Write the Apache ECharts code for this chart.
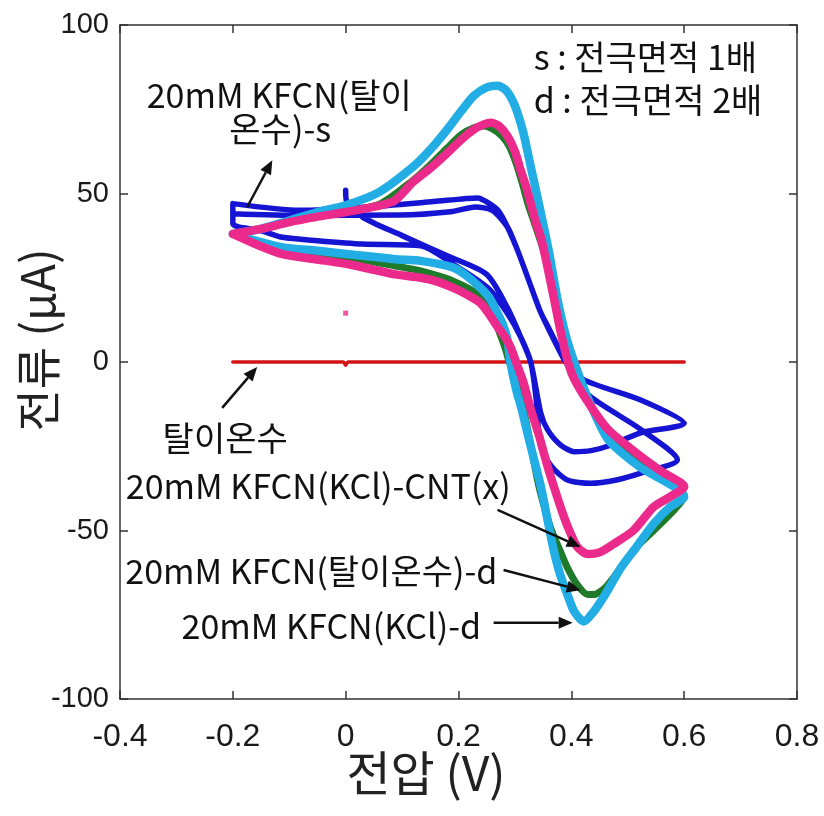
<!DOCTYPE html>
<html><head><meta charset="utf-8">
<script src="https://cdn.jsdelivr.net/npm/echarts/dist/echarts.min.js"></script>
<style>html,body{margin:0;padding:0;background:#fff}#c{width:824px;height:816px}</style>
</head><body><div id="c"></div>
<script>
// ---- tick values ----
const xTicks = [-0.4, -0.2, 0, 0.2, 0.4, 0.6, 0.8];
const yTicks = [-100, -50, 0, 50, 100];
const xTitle = '전압 (V)';
const yTitle = '전류 (μA)';

// ---- series data [voltage V, current uA] ----
const redDI = [[-0.2,0],[-0.004,0],[0,-1],[0.004,0],[0.6,0]];

const cyanKClD = [
 [-0.2,38],[-0.15,39.5],[-0.1,42],[-0.05,44.5],[0,46.5],[0.06,50.5],[0.12,58],[0.15,63],[0.18,69],[0.205,74.5],[0.227,79],[0.25,81.5],[0.269,82],[0.285,80.5],[0.3,76],[0.315,68],[0.328,58],[0.345,45],[0.36,33],[0.375,19],[0.39,8],[0.405,0],[0.43,-11],[0.465,-23],[0.52,-31],[0.6,-40],
 [0.575,-43],[0.546,-48],[0.515,-55],[0.488,-61],[0.46,-69],[0.44,-74],[0.422,-77],[0.405,-74],[0.393,-69],[0.38,-63],[0.369,-56],[0.358,-47],[0.346,-37],[0.334,-29],[0.322,-21],[0.312,-14],[0.302,-8],[0.292,0],[0.287,6.5],[0.279,11],[0.269,14.5],[0.255,19],[0.239,22],[0.215,25.5],[0.191,28],[0.133,30],[0.088,30.5],[0.005,32],[-0.05,33],[-0.112,34],[-0.16,36],[-0.2,38]
];

const greenDId = [
 [-0.2,38],[-0.15,39.5],[-0.1,41.5],[-0.054,43],[0,44.5],[0.062,47],[0.12,54],[0.15,58.5],[0.18,63.5],[0.205,67.5],[0.227,69.5],[0.245,70],[0.262,69],[0.277,67],[0.29,64],[0.302,59],[0.313,53],[0.323,47],[0.333,42],[0.349,34],[0.36,27],[0.372,18],[0.384,9],[0.397,0],[0.41,-5],[0.435,-13],[0.47,-22],[0.525,-30],[0.6,-40],
 [0.576,-45],[0.546,-50],[0.515,-55],[0.488,-61],[0.46,-67],[0.44,-69],[0.429,-69],[0.41,-66],[0.393,-61],[0.38,-56],[0.365,-50],[0.352,-43],[0.34,-35],[0.325,-22],[0.31,-10],[0.3,-4],[0.29,0],[0.283,4],[0.272,9],[0.262,13],[0.239,19.5],[0.191,24],[0.133,27],[0.088,28.5],[0.005,31],[-0.054,32],[-0.112,33.5],[-0.16,36],[-0.2,38]
];

const pinkCNT = [
 [-0.2,38],[-0.15,39.5],[-0.1,41.5],[-0.054,43],[0,44.5],[0.062,46.5],[0.088,48],[0.12,53.5],[0.15,57.5],[0.18,62],[0.205,66],[0.227,69],[0.245,70.5],[0.257,71],[0.272,70],[0.287,67],[0.3,62.5],[0.31,57],[0.32,52],[0.328,47],[0.338,41],[0.346,37],[0.358,28],[0.369,19],[0.381,9],[0.394,0],[0.405,-5],[0.43,-12],[0.465,-20],[0.523,-28],[0.56,-32.5],[0.6,-37],
 [0.575,-40],[0.546,-43],[0.51,-50],[0.475,-54],[0.45,-56.5],[0.429,-57],[0.411,-55],[0.399,-51],[0.387,-46],[0.372,-38.5],[0.358,-31],[0.343,-22],[0.328,-14],[0.315,-6],[0.302,0],[0.292,4.5],[0.28,8],[0.269,10.5],[0.255,14],[0.239,17.5],[0.215,20],[0.191,22],[0.16,24],[0.133,25],[0.088,26],[0.005,29],[-0.054,30.5],[-0.112,32],[-0.16,35],[-0.2,38]
];
const pinkDot = [[0,14.5]];

const blueDIs = [
 [0,51],[0.002,47.5],[0.02,46],[0.03,43],[0.1,37.5],[0.18,31.5],[0.25,26],[0.287,16],[0.31,7.5],[0.328,0],[0.3456,-15],[0.3575,-20],[0.38,-24.5],[0.405,-26.6],[0.435,-26.3],[0.464,-25],[0.523,-21],[0.6,-18.2],
 [0.523,-11.3],[0.4225,-5.3],[0.39,0],[0.38,3],[0.365,8],[0.345,15],[0.325,24],[0.305,33],[0.287,40],[0.27,45],[0.25,47.5],[0.234,48.7],[0.156,47.6],[0.038,46],[-0.08,45],[-0.2,47],
 [-0.2,41],[-0.15,39],[-0.112,37],[-0.05,36],[0.03,35],[0.133,34.5],[0.191,29],[0.252,22],[0.2865,14.5],[0.31,7.5],[0.328,0],[0.337,-10],[0.3456,-25],[0.365,-31],[0.393,-35],[0.434,-36],[0.48,-35],[0.523,-33],[0.588,-29],
 [0.523,-20],[0.434,-10.3],[0.405,-4],[0.39,0],[0.375,5],[0.36,10],[0.345,15],[0.325,24],[0.305,33],[0.287,40],[0.26,45],[0.23,46],[0.186,44.6],[0.097,43.6],[-0.08,43.5],[-0.2,44]
];

// ---- annotations (data coordinates) ----
const labels = [
 {t:'20mM KFCN(탈이', at:[-0.1177,79.2]},
 {t:'온수)-s', at:[-0.1160,69.1]},
 {t:'s : 전극면적 1배', at:[0.3332,90.5], align:'left'},
 {t:'d : 전극면적 2배', at:[0.3332,77.7], align:'left'},
 {t:'탈이온수', at:[-0.2136,-22.6]},
 {t:'20mM KFCN(KCl)-CNT(x)', at:[-0.0485,-36.8]},
 {t:'20mM KFCN(탈이온수)-d', at:[-0.0609,-62.0]},
 {t:'20mM KFCN(KCl)-d', at:[-0.0254,-78.3]}
];
const arrows = [
 [[-0.1745,46.0],[-0.130,59.9]],
 [[-0.2189,-13.6],[-0.1568,-1.5]],
 [[0.2693,-43.9],[0.4166,-54.9]],
 [[0.2799,-61.7],[0.4166,-67.7]],
 [[0.2622,-77.4],[0.4024,-77.4]]
];

const chart = echarts.init(document.getElementById('c'));
const fmt = v => (Math.round(v*10)/10).toString();
const axisLine = {show:true, onZero:false, lineStyle:{color:'#333', width:1.5}};
const tick = {show:true, inside:true, length:8, lineStyle:{color:'#333', width:1.5}};
function line(name, data, color, width, z){
  return {type:'line', name, data, symbol:'none', showSymbol:false, smooth:0.25, z,
    lineStyle:{color, width, cap:'round', join:'round'}, animation:false, silent:true};
}
chart.setOption({
  animation:false,
  grid:{left:120, right:27, top:25, bottom:117, containLabel:false},
  xAxis:[
    {type:'value', min:xTicks[0], max:xTicks[xTicks.length-1], interval:0.2, position:'bottom',
     axisLine, axisTick:tick, splitLine:{show:false},
     axisLabel:{fontSize:32, color:'#1a1a1a', margin:22, fontFamily:'Liberation Sans', formatter:fmt}},
    {type:'value', min:xTicks[0], max:xTicks[xTicks.length-1], interval:0.2, position:'top',
     axisLine, axisTick:tick, axisLabel:{show:false}, splitLine:{show:false}}
  ],
  yAxis:[
    {type:'value', min:yTicks[0], max:yTicks[yTicks.length-1], interval:50, position:'left',
     axisLine, axisTick:tick, splitLine:{show:false},
     axisLabel:{fontSize:29, color:'#1a1a1a', margin:11, fontFamily:'Liberation Sans'}},
    {type:'value', min:yTicks[0], max:yTicks[yTicks.length-1], interval:50, position:'right',
     axisLine, axisTick:tick, axisLabel:{show:false}, splitLine:{show:false}}
  ],
  series:[
    line('탈이온수', redDI, '#d41414', 3.5, 1),
    line('20mM KFCN(탈이온수)-s', blueDIs, '#1414d2', 5.5, 2),
    line('20mM KFCN(탈이온수)-d', greenDId, '#1f7a2a', 7, 3),
    line('20mM KFCN(KCl)-d', cyanKClD, '#22ade4', 8.5, 4),
    line('20mM KFCN(KCl)-CNT(x)', pinkCNT, '#ec2a8c', 8.5, 5),
    {type:'scatter', data:pinkDot, symbol:'rect', symbolSize:5, itemStyle:{color:'#ec2a8c'}, z:6, silent:true}
  ]
});

const P = pt => chart.convertToPixel({xAxisIndex:0, yAxisIndex:0}, pt);
const g = [];
labels.forEach(l => {
  const [x,y] = P(l.at);
  g.push({type:'text', x, y, z:20, style:{text:l.t, fill:'#111', fontSize:34, fontFamily:'Noto Sans CJK KR',
    align:l.align || 'center', verticalAlign:'middle'}});
});
arrows.forEach(([a,b]) => {
  const [x1,y1] = P(a), [x2,y2] = P(b);
  const ang = Math.atan2(y2-y1, x2-x1), L = 14, W = 6;
  const bx = x2 - L*Math.cos(ang), by = y2 - L*Math.sin(ang);
  g.push({type:'line', z:20, shape:{x1,y1,x2:bx,y2:by}, style:{stroke:'#111', lineWidth:2.5}});
  g.push({type:'polygon', z:20, shape:{points:[[x2,y2],[bx+W*Math.sin(ang), by-W*Math.cos(ang)],[bx-W*Math.sin(ang), by+W*Math.cos(ang)]]}, style:{fill:'#111'}});
});
// axis titles
g.push({type:'text', x:426, y:773, z:20, style:{text:xTitle, fill:'#222', fontSize:48, fontFamily:'Noto Sans CJK KR', align:'center', verticalAlign:'middle'}});
g.push({type:'text', x:38, y:340, rotation:Math.PI/2, z:20, style:{text:yTitle, fill:'#222', fontSize:46, fontFamily:'Noto Sans CJK KR', align:'center', verticalAlign:'middle'}});
chart.setOption({graphic:g});
</script></body></html>
